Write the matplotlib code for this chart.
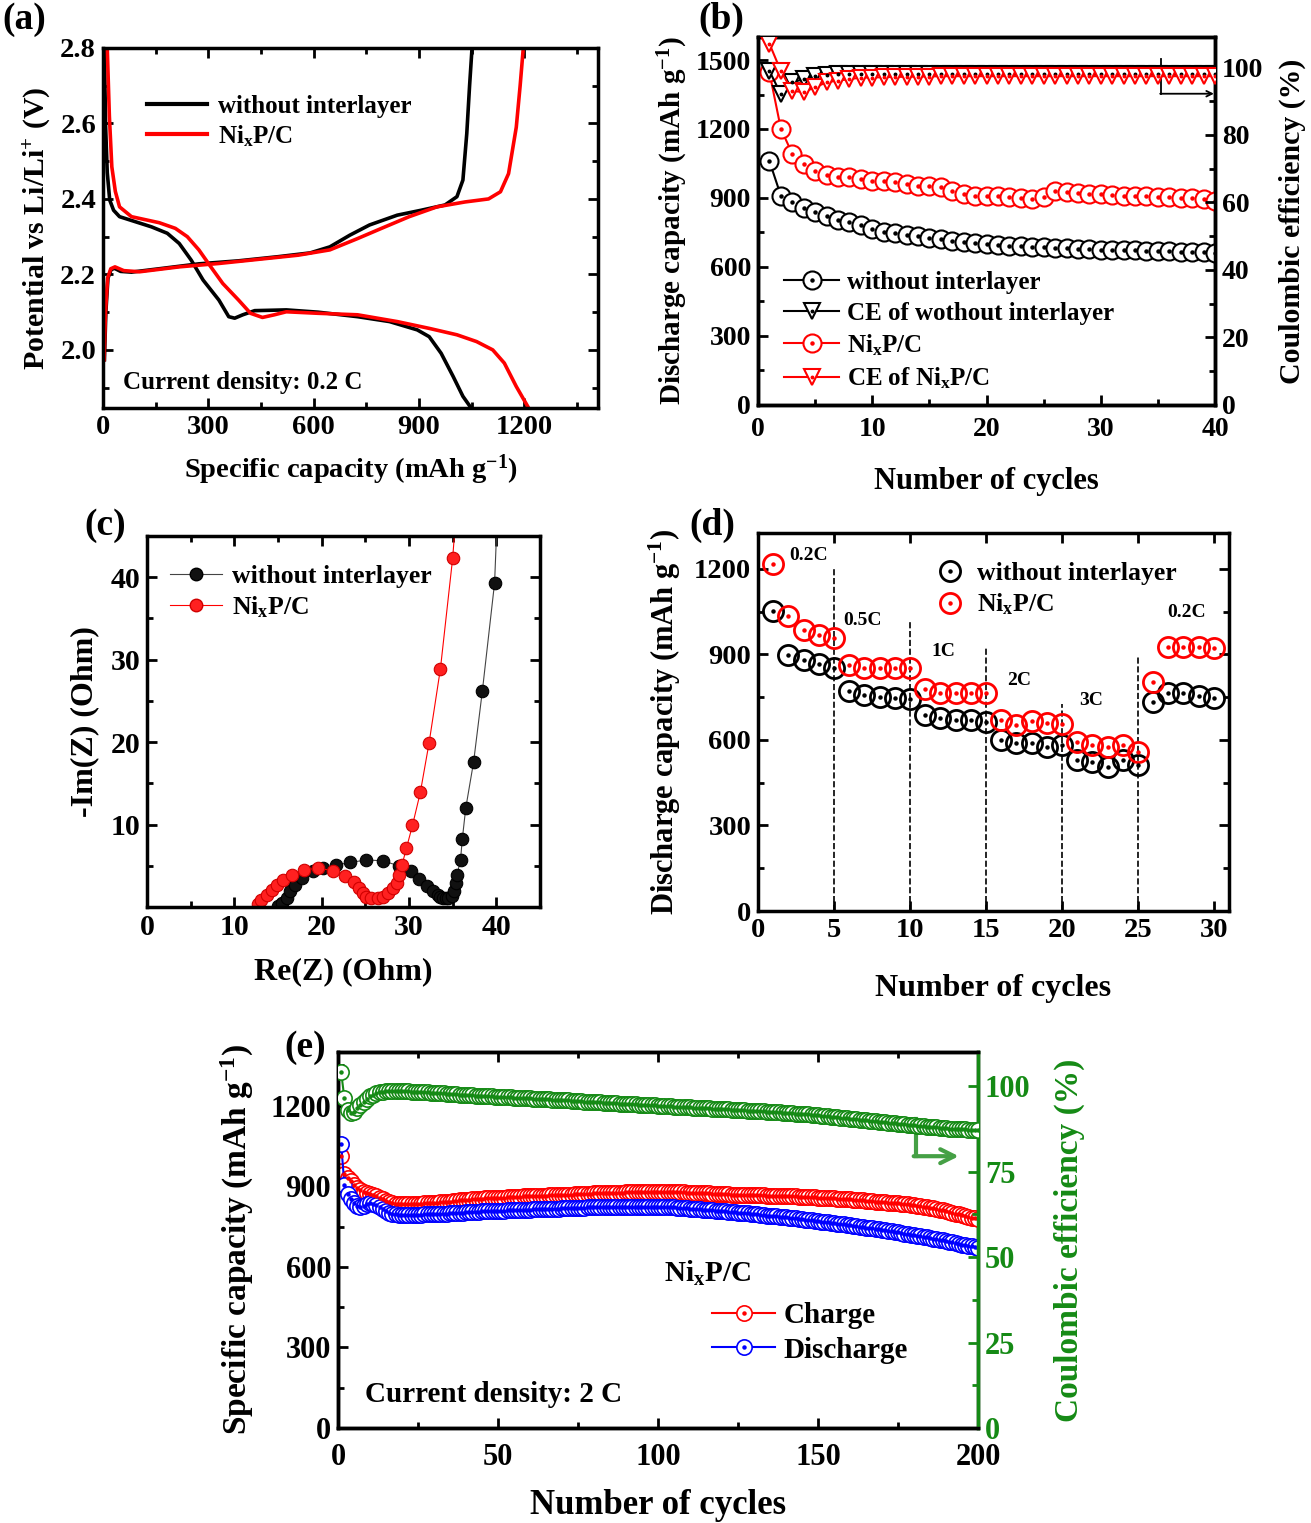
import numpy as np
import matplotlib
matplotlib.use('Agg')
import matplotlib.pyplot as plt
from matplotlib.ticker import MultipleLocator
from matplotlib.lines import Line2D
from matplotlib.legend_handler import HandlerTuple

plt.rcParams['font.family'] = 'Liberation Serif'
plt.rcParams['font.weight'] = 'bold'
plt.rcParams['axes.labelweight'] = 'bold'
plt.rcParams['mathtext.fontset'] = 'custom'
plt.rcParams['mathtext.rm'] = 'Liberation Serif:bold'
plt.rcParams['mathtext.it'] = 'Liberation Serif:bold'
plt.rcParams['mathtext.bf'] = 'Liberation Serif:bold'
plt.rcParams['legend.frameon'] = False
plt.rcParams['legend.borderaxespad'] = 0

RED = '#ff0000'
BLUE = '#0000ff'
GREEN = '#158a15'

# ---------------- (a) charge/discharge profiles at 0.2 C
a_bk_dis_x = [4, 7, 12, 19, 30, 47, 138, 183, 217, 251, 285, 330, 358, 375, 398, 432, 522, 612, 725, 816, 895, 929, 963, 997, 1025, 1047]
a_bk_dis_y = [2.80, 2.60, 2.47, 2.397, 2.37, 2.353, 2.326, 2.309, 2.282, 2.238, 2.185, 2.132, 2.088, 2.084, 2.093, 2.104, 2.106, 2.10, 2.088, 2.075, 2.053, 2.035, 1.991, 1.93, 1.877, 1.848]
a_bk_chg_x = [4, 8, 14, 23, 33, 50, 81, 160, 273, 386, 499, 590, 646, 703, 759, 838, 906, 974, 1008, 1025, 1036, 1044, 1051]
a_bk_chg_y = [1.974, 2.10, 2.19, 2.213, 2.216, 2.208, 2.206, 2.215, 2.228, 2.236, 2.247, 2.257, 2.273, 2.304, 2.331, 2.357, 2.37, 2.384, 2.406, 2.45, 2.573, 2.70, 2.80]
a_rd_dis_x = [12, 18, 25, 35, 47, 81, 160, 206, 240, 273, 307, 341, 386, 420, 454, 488, 522, 612, 725, 838, 929, 1008, 1064, 1110, 1143, 1177, 1211]
a_rd_dis_y = [2.80, 2.62, 2.485, 2.42, 2.379, 2.353, 2.337, 2.322, 2.30, 2.265, 2.22, 2.176, 2.132, 2.097, 2.086, 2.093, 2.101, 2.097, 2.093, 2.075, 2.057, 2.04, 2.022, 2.0, 1.965, 1.903, 1.848]
a_rd_chg_x = [3, 7, 13, 22, 34, 59, 104, 217, 330, 443, 556, 646, 725, 793, 872, 951, 1031, 1098, 1132, 1155, 1177, 1188, 1197]
a_rd_chg_y = [1.974, 2.10, 2.19, 2.215, 2.22, 2.21, 2.207, 2.22, 2.229, 2.24, 2.251, 2.265, 2.295, 2.322, 2.353, 2.379, 2.392, 2.40, 2.419, 2.467, 2.59, 2.70, 2.80]

# ---------------- (b) cycling at 0.2 C
b_cycles = list(range(1, 41))
b_bk_cap = [1060, 910, 881, 855, 837, 820, 805, 794, 782, 767, 753, 746, 738, 733, 727, 721, 714, 709, 703, 699,
            696, 693, 690, 688, 686, 684, 682, 680, 678, 676, 675, 673, 672, 670, 669, 668, 666, 665, 664, 662]
b_rd_cap = [1446, 1201, 1092, 1046, 1019, 1000, 990, 990, 983, 976, 976, 968, 961, 954, 951, 947, 932, 917, 910, 910,
            907, 903, 898, 896, 903, 932, 925, 920, 917, 917, 913, 910, 910, 907, 906, 903, 900, 898, 896, 888]
b_bk_ce = [98.9, 92.1, 95.6, 96.5, 97.4, 97.8, 97.9, 97.9, 97.9, 97.9, 97.9, 97.9, 97.9, 97.9, 97.9, 97.9, 97.9, 97.9, 97.9, 97.9,
           97.9, 97.9, 97.9, 97.9, 97.9, 97.9, 97.9, 97.9, 97.9, 97.9, 97.9, 97.9, 97.9, 97.9, 97.9, 97.9, 97.9, 97.9, 97.9, 97.9]
b_rd_ce = [107.0, 98.9, 93.0, 92.7, 94.1, 95.6, 96.1, 96.5, 97.0, 97.0, 97.1, 97.2, 97.2, 97.3, 97.3, 97.4, 97.4, 97.4, 97.4, 97.4,
           97.4, 97.4, 97.4, 97.4, 97.4, 97.4, 97.4, 97.4, 97.4, 97.4, 97.4, 97.4, 97.4, 97.4, 97.4, 97.4, 97.4, 97.4, 97.4, 97.4]

# ---------------- (c) EIS
c_bk_re = [15.0, 15.5, 16.0, 16.4, 17.0, 17.8, 19.0, 20.2, 21.7, 23.3, 25.1, 27.0, 28.8, 30.2, 31.2, 32.1, 32.7, 33.3, 33.6,
           33.9, 34.2, 34.5, 34.9, 35.2, 35.4, 35.5, 35.9, 36.1, 36.5, 37.4, 38.4, 39.8, 40.2]
c_bk_im = [0.1, 0.5, 1.1, 1.9, 2.7, 3.5, 4.3, 4.7, 5.1, 5.4, 5.7, 5.6, 5.0, 4.3, 3.4, 2.6, 1.9, 1.4, 1.2,
           1.1, 1.05, 1.1, 1.3, 1.9, 2.9, 3.9, 5.7, 8.2, 12.0, 17.6, 26.2, 39.3, 50.0]
c_rd_re = [12.7, 13.1, 13.7, 14.3, 14.9, 15.6, 16.6, 18.0, 19.6, 21.3, 22.7, 23.7, 24.3, 24.7, 25.1, 25.7, 26.4, 27.0, 27.6,
           28.2, 28.6, 28.8, 29.2, 29.7, 30.4, 31.3, 32.3, 33.6, 35.0, 35.55]
c_rd_im = [0.3, 0.9, 1.5, 2.1, 2.7, 3.3, 3.9, 4.5, 4.7, 4.4, 3.7, 3.0, 2.3, 1.7, 1.2, 1.1, 1.1, 1.2, 1.7,
           2.3, 2.9, 3.9, 5.1, 7.1, 9.9, 13.9, 19.9, 28.9, 42.3, 50.0]

# ---------------- (d) rate capability
d_cycles = list(range(1, 31))
d_bk_cap = [1051, 899, 879, 867, 852, 772, 757, 751, 748, 745, 686, 677, 671, 669, 662,
            600, 590, 588, 574, 582, 529, 523, 505, 529, 511, 734, 766, 763, 754, 748]
d_rd_cap = [1218, 1034, 986, 968, 956, 864, 852, 852, 852, 852, 778, 766, 766, 766, 766,
            671, 653, 665, 659, 656, 594, 582, 576, 582, 558, 802, 927, 927, 927, 921]
d_rate_edges = [5, 10, 15, 20, 25]
d_rate_tops = [1205, 1015, 925, 725, 890]
d_rate_names = ['0.2C', '0.5C', '1C', '2C', '3C', '0.2C']
d_rate_x = [3.3, 6.9, 12.2, 17.2, 21.9, 28.2]
d_rate_y = [1247, 1018, 909, 808, 737, 1045]

# ---------------- (e) long cycling at 2 C
e_cycles = list(range(1, 201))
e_charge = [1013, 945, 930, 918, 905, 895, 887, 880, 876, 872, 868, 864, 858, 851, 845, 840, 837, 835, 834, 833,
            833, 833, 834, 834, 835, 835, 836, 836, 837, 838, 839, 840, 841, 842, 843, 845, 846, 847, 848, 849,
            850, 851, 852, 853, 854, 855, 855, 856, 857, 857, 858, 858, 859, 860, 860, 861, 861, 862, 862, 863,
            863, 864, 864, 865, 865, 866, 866, 867, 867, 868, 868, 869, 869, 870, 870, 871, 871, 872, 872, 873,
            873, 874, 874, 875, 875, 875, 876, 876, 876, 877, 877, 877, 878, 878, 878, 878, 879, 879, 879, 879,
            879, 879, 879, 878, 878, 878, 877, 877, 876, 876, 875, 875, 874, 874, 873, 873, 872, 872, 871, 871,
            870, 870, 869, 869, 868, 868, 868, 867, 867, 867, 866, 866, 866, 865, 865, 865, 864, 864, 864, 863,
            863, 862, 862, 861, 861, 860, 860, 859, 859, 858, 857, 857, 856, 855, 855, 854, 853, 852, 852, 851,
            850, 849, 848, 847, 846, 845, 844, 843, 842, 841, 840, 839, 838, 837, 836, 835, 833, 832, 831, 829,
            828, 826, 824, 822, 820, 818, 816, 813, 810, 807, 804, 801, 798, 795, 792, 789, 786, 783, 780, 777]
e_discharge = [1057, 905, 872, 852, 838, 828, 822, 826, 832, 836, 835, 830, 822, 814, 807, 801, 797, 795, 794, 793,
               793, 793, 793, 794, 794, 794, 795, 795, 795, 796, 796, 797, 797, 798, 799, 800, 800, 801, 802, 803,
               803, 804, 805, 805, 806, 806, 807, 807, 808, 808, 809, 809, 810, 810, 811, 811, 812, 812, 813, 813,
               814, 814, 815, 815, 816, 816, 817, 817, 817, 818, 818, 819, 819, 819, 820, 820, 820, 821, 821, 821,
               822, 822, 822, 822, 823, 823, 823, 823, 824, 824, 824, 824, 824, 824, 824, 824, 824, 824, 823, 823,
               823, 822, 822, 821, 821, 820, 819, 818, 818, 817, 816, 815, 814, 813, 812, 811, 810, 809, 808, 807,
               806, 805, 804, 803, 802, 801, 800, 799, 798, 796, 795, 794, 793, 791, 790, 789, 788, 786, 785, 784,
               782, 781, 780, 778, 777, 776, 774, 773, 771, 770, 768, 767, 765, 764, 762, 761, 759, 758, 756, 754,
               753, 751, 750, 748, 746, 745, 743, 741, 739, 738, 736, 734, 732, 730, 728, 726, 724, 722, 720, 718,
               716, 714, 712, 710, 708, 705, 703, 701, 698, 696, 693, 691, 688, 686, 683, 681, 678, 676, 673, 670]
e_ce = [104.0, 96.5, 93.0, 92.0, 92.5, 93.5, 94.5, 95.5, 96.3, 97.0, 97.5, 97.9, 98.2, 98.4, 98.5, 98.6, 98.6, 98.6, 98.6, 98.6,
        98.5, 98.5, 98.4, 98.4, 98.3, 98.3, 98.2, 98.2, 98.1, 98.1, 98.0, 97.9, 97.9, 97.8, 97.7, 97.7, 97.6, 97.5, 97.5, 97.4,
        97.3, 97.3, 97.2, 97.2, 97.1, 97.1, 97.0, 97.0, 96.9, 96.9, 96.8, 96.8, 96.7, 96.7, 96.6, 96.6, 96.5, 96.5, 96.4, 96.4,
        96.3, 96.3, 96.2, 96.2, 96.1, 96.1, 96.0, 96.0, 95.9, 95.9, 95.8, 95.8, 95.7, 95.7, 95.6, 95.6, 95.5, 95.5, 95.4, 95.4,
        95.3, 95.3, 95.2, 95.2, 95.1, 95.1, 95.0, 94.9, 94.9, 94.8, 94.8, 94.7, 94.7, 94.6, 94.6, 94.5, 94.5, 94.4, 94.4, 94.3,
        94.2, 94.2, 94.1, 94.1, 94.0, 94.0, 93.9, 93.9, 93.8, 93.8, 93.7, 93.7, 93.6, 93.6, 93.5, 93.5, 93.4, 93.4, 93.3, 93.3,
        93.2, 93.2, 93.1, 93.1, 93.0, 93.0, 92.9, 92.8, 92.8, 92.7, 92.7, 92.6, 92.6, 92.5, 92.4, 92.4, 92.3, 92.3, 92.2, 92.1,
        92.1, 92.0, 91.9, 91.9, 91.8, 91.7, 91.7, 91.6, 91.5, 91.5, 91.4, 91.3, 91.2, 91.1, 91.0, 90.9, 90.8, 90.7, 90.6, 90.5,
        90.4, 90.3, 90.2, 90.1, 90.0, 89.9, 89.8, 89.7, 89.6, 89.5, 89.4, 89.3, 89.2, 89.1, 89.0, 88.9, 88.8, 88.7, 88.6, 88.5,
        88.4, 88.3, 88.2, 88.1, 88.0, 87.9, 87.9, 87.8, 87.7, 87.7, 87.6, 87.6, 87.5, 87.5, 87.4, 87.4, 87.3, 87.3, 87.3, 87.2]


def style(ax, fs, top=True, right=True, xpad=5):
    ax.tick_params(which='both', direction='in', top=top, right=right, labelsize=fs, width=2, pad=5)
    ax.tick_params(axis='x', which='both', pad=xpad)
    ax.tick_params(which='major', length=7)
    ax.tick_params(which='minor', length=4)
    for s in ax.spines.values():
        s.set_linewidth(2.5)


def dotted_marks(ax, x, y, color, ms, marker='o', lw=1.5, line=True, mfc='white', zorder=3):
    ax.plot(x, y, ls='-' if line else 'none', lw=1.5, color=color, marker=marker, ms=ms,
            mfc=mfc, mec=color, mew=lw, zorder=zorder)
    ax.plot(x, y, ls='none', marker='o', ms=2.2 if marker == 'o' else 1.8, color=color, zorder=zorder + 0.1)


def mark_handle(color, ms, marker='o', line=True, mfc='white', mew=1.5):
    ring = Line2D([], [], ls='-' if line else 'none', lw=1.5, color=color, marker=marker, ms=ms,
                  mfc=mfc, mec=color, mew=mew)
    dot = Line2D([], [], ls='none', marker='o', ms=2.2 if marker == 'o' else 1.8, color=color)
    return (ring, dot)


TUPLE = {tuple: HandlerTuple(ndivide=1, pad=0)}

fig = plt.figure(figsize=(13.11, 15.23), dpi=100)

# ================= (a)
ax = fig.add_axes([0.0786, 0.7321, 0.3776, 0.2364])
ax.plot(a_bk_dis_x, a_bk_dis_y, color='k', lw=2.6)
ax.plot(a_bk_chg_x, a_bk_chg_y, color='k', lw=2.6)
ax.plot(a_rd_dis_x, a_rd_dis_y, color=RED, lw=2.6)
ax.plot(a_rd_chg_x, a_rd_chg_y, color=RED, lw=2.6)
ax.set_xlim(0, 1410)
ax.set_ylim(1.846, 2.8)
ax.xaxis.set_major_locator(MultipleLocator(300))
ax.xaxis.set_minor_locator(MultipleLocator(150))
ax.yaxis.set_major_locator(MultipleLocator(0.2))
ax.yaxis.set_minor_locator(MultipleLocator(0.1))
ax.yaxis.set_major_formatter(plt.FormatStrFormatter('%.1f'))
style(ax, 20.5)
ax.set_xlabel('Specific capacity (mAh g$^{-1}$)', fontsize=20.5, labelpad=9)
ax.set_ylabel('Potential vs Li/Li$^{+}$ (V)', fontsize=21.5, labelpad=5)
ax.legend([Line2D([], [], color='k', lw=3), Line2D([], [], color=RED, lw=3)],
          ['without interlayer', 'Ni$_{\\rm x}$P/C'], loc='upper left', bbox_to_anchor=(0.069, 0.898),
          fontsize=18, handlelength=2.4, labelspacing=0.22, handletextpad=0.45)
ax.text(0.04, 0.072, 'Current density: 0.2 C', transform=ax.transAxes, fontsize=18, va='center')

# ================= (b)
ax = fig.add_axes([0.5782, 0.7341, 0.3486, 0.2416])
ax2 = ax.twinx()
dotted_marks(ax, b_cycles, b_bk_cap, 'k', 13)
dotted_marks(ax, b_cycles, b_rd_cap, RED, 13)
dotted_marks(ax2, b_cycles, b_bk_ce, 'k', 12, marker='v')
dotted_marks(ax2, b_cycles, b_rd_ce, RED, 12, marker='v')
ax.set_xlim(0, 40)
ax.set_ylim(0, 1600)
ax2.set_ylim(0, 109)
ax.xaxis.set_major_locator(MultipleLocator(10))
ax.xaxis.set_minor_locator(MultipleLocator(5))
ax.yaxis.set_major_locator(MultipleLocator(300))
ax.yaxis.set_minor_locator(MultipleLocator(150))
ax2.yaxis.set_major_locator(MultipleLocator(20))
ax2.yaxis.set_minor_locator(MultipleLocator(10))
style(ax, 20, top=False, right=False, xpad=9)
style(ax2, 20, top=False, right=True)
ax2.tick_params(which='both', left=False)
ax.set_xlabel('Number of cycles', fontsize=22, labelpad=18)
ax.set_ylabel('Discharge capacity (mAh g$^{-1}$)', fontsize=21, labelpad=4)
ax2.set_ylabel('Coulombic efficiency (%)', fontsize=21.5, labelpad=11)
ax2.plot([35.3, 35.3], [102.5, 92.2], color='k', lw=1.3)
ax2.annotate('', xy=(39.9, 92.2), xytext=(35.2, 92.2),
             arrowprops=dict(arrowstyle='->', lw=1.3, color='k', shrinkA=0, shrinkB=0))
ax2.legend([mark_handle('k', 13), mark_handle('k', 12, 'v'), mark_handle(RED, 13), mark_handle(RED, 12, 'v')],
           ['without interlayer', 'CE of wothout interlayer', 'Ni$_{\\rm x}$P/C', 'CE of Ni$_{\\rm x}$P/C'],
           handler_map=TUPLE, loc='lower left', bbox_to_anchor=(0.035, 0.011), fontsize=18,
           handlelength=2.2, labelspacing=0.3, handletextpad=0.3)

# ================= (c)
ax = fig.add_axes([0.1121, 0.4045, 0.2998, 0.2436])
ax.plot(c_bk_re, c_bk_im, color='#444444', lw=0.8, marker='o', ms=9, mfc='#111111', mec='#000000', mew=0.8)
ax.plot(c_rd_re, c_rd_im, color=RED, lw=0.8, marker='o', ms=9, mfc='#ff2020', mec='#d00000', mew=0.8)
ax.set_xlim(0, 45)
ax.set_ylim(0, 45)
ax.xaxis.set_major_locator(MultipleLocator(10))
ax.xaxis.set_minor_locator(MultipleLocator(5))
ax.set_yticks([10, 20, 30, 40])
ax.yaxis.set_minor_locator(MultipleLocator(5))
style(ax, 21.5)
ax.set_xlabel('Re(Z) (Ohm)', fontsize=23, labelpad=12)
ax.set_ylabel('-Im(Z) (Ohm)', fontsize=23, labelpad=8)
ax.legend([Line2D([], [], color='#444444', lw=0.8, marker='o', ms=9, mfc='#111111', mec='k'),
           Line2D([], [], color=RED, lw=0.8, marker='o', ms=9, mfc='#ff2020', mec='#d00000')],
          ['without interlayer', 'Ni$_{\\rm x}$P/C'], loc='upper left', bbox_to_anchor=(0.033, 0.95),
          fontsize=18.5, handlelength=2.0, labelspacing=0.25, handletextpad=0.4)

# ================= (d)
ax = fig.add_axes([0.5782, 0.4018, 0.3593, 0.2482])
dotted_marks(ax, d_cycles, d_bk_cap, 'k', 14.5, lw=2, line=False, mfc='none')
dotted_marks(ax, d_cycles, d_rd_cap, RED, 14.5, lw=2, line=False, mfc='none')
ax.vlines(d_rate_edges, 0, d_rate_tops, colors='k', linestyles='--', lw=1.2)
for name, x, y in zip(d_rate_names, d_rate_x, d_rate_y):
    ax.text(x, y, name, fontsize=14, ha='center', va='center')
ax.set_xlim(0, 31)
ax.set_ylim(0, 1325)
ax.xaxis.set_major_locator(MultipleLocator(5))
ax.yaxis.set_major_locator(MultipleLocator(300))
ax.yaxis.set_minor_locator(MultipleLocator(150))
style(ax, 20.5)
ax.set_xlabel('Number of cycles', fontsize=23, labelpad=22)
ax.set_ylabel('Discharge capacity (mAh g$^{-1}$)', fontsize=22, labelpad=8)
ax.legend([mark_handle('k', 14.5, line=False, mfc='none', mew=2), mark_handle(RED, 14.5, line=False, mfc='none', mew=2)],
          ['without interlayer', 'Ni$_{\\rm x}$P/C'], handler_map=TUPLE,
          loc='upper left', bbox_to_anchor=(0.352, 0.95), fontsize=18.5, handlelength=1.2,
          labelspacing=0.25, handletextpad=0.45)

# ================= (e)
ax = fig.add_axes([0.2578, 0.0624, 0.4882, 0.2469])
ax2 = ax.twinx()
dotted_marks(ax, e_cycles, e_charge, RED, 11, lw=1.2)
dotted_marks(ax, e_cycles, e_discharge, BLUE, 11, lw=1.2)
dotted_marks(ax2, e_cycles, e_ce, GREEN, 11, lw=1.2)
ax.set_xlim(0, 200)
ax.set_ylim(0, 1400)
ax2.set_ylim(0, 110)
ax.xaxis.set_major_locator(MultipleLocator(50))
ax.xaxis.set_minor_locator(MultipleLocator(25))
ax.yaxis.set_major_locator(MultipleLocator(300))
ax.yaxis.set_minor_locator(MultipleLocator(150))
ax2.yaxis.set_major_locator(MultipleLocator(25))
ax2.yaxis.set_minor_locator(MultipleLocator(12.5))
style(ax, 22, top=True, right=False, xpad=11)
style(ax2, 22, top=False, right=True)
ax2.tick_params(which='both', left=False, colors=GREEN)
ax2.spines['right'].set_color(GREEN)
ax.set_xlabel('Number of cycles', fontsize=25, labelpad=12)
ax.set_ylabel('Specific capacity (mAh g$^{-1}$)', fontsize=24, labelpad=10)
ax2.set_ylabel('Coulombic efficiency (%)', fontsize=24, labelpad=17, color=GREEN)
ax2.plot([180.5, 180.5], [90.5, 79.5], color='#45a045', lw=3)
ax2.annotate('', xy=(194, 79.5), xytext=(179.9, 79.5),
             arrowprops=dict(arrowstyle='->', lw=3, color='#45a045', shrinkA=0, shrinkB=0, mutation_scale=25))
ax.text(0.577, 0.412, 'Ni$_{\\rm x}$P/C', transform=ax.transAxes, fontsize=21, ha='center', va='center')
ax.legend([mark_handle(RED, 11, mew=1.2), mark_handle(BLUE, 11, mew=1.2)], ['Charge', 'Discharge'],
          handler_map=TUPLE, loc='upper left', bbox_to_anchor=(0.566, 0.365), fontsize=21,
          handlelength=2.17, labelspacing=0.25, handletextpad=0.28)
ax.text(0.042, 0.088, 'Current density: 2 C', transform=ax.transAxes, fontsize=21, va='center')

# panel letters
for lab, x, y in [('(a)', 0.002, 0.987), ('(b)', 0.533, 0.987), ('(c)', 0.064, 0.655), ('(d)', 0.526, 0.655), ('(e)', 0.217, 0.312)]:
    fig.text(x, y, lab, fontsize=27, fontweight='bold', ha='left', va='center')

fig.savefig('out.png', dpi=100)
